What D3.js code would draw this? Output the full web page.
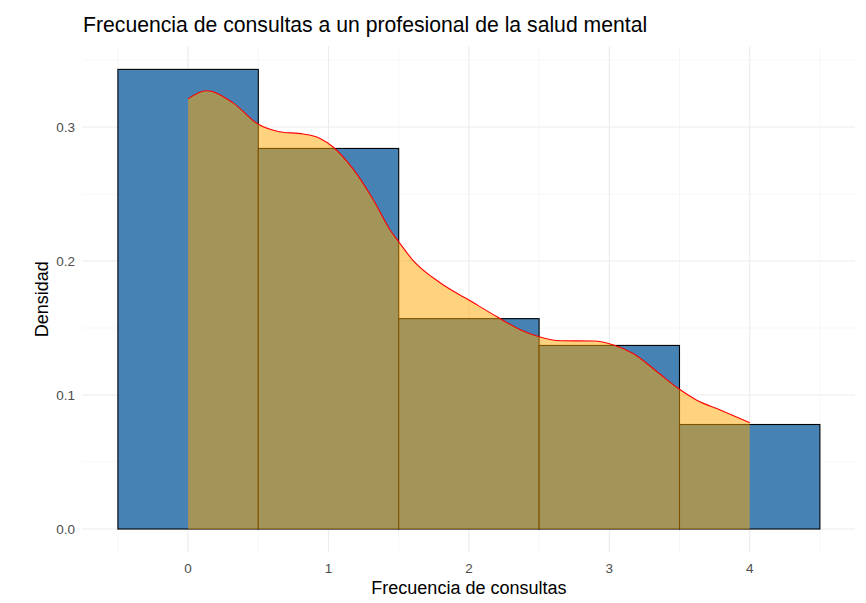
<!DOCTYPE html>
<html>
<head>
<meta charset="utf-8">
<script src="https://cdn.jsdelivr.net/npm/d3@7"></script>
<style>
  body { margin: 0; background: #fff; }
  text { font-family: "Liberation Sans", Arial, sans-serif; }
</style>
</head>
<body>
<svg id="chart" width="866" height="603"></svg>
<script>
// histogram (density scale), bins centred on 0..4, width 1
const bins = [0, 1, 2, 3, 4]
const binDensity = [0.343, 0.284, 0.157, 0.137, 0.078]

// kernel density curve
const kdeX = [0, 0.13, 0.32, 0.5, 0.65, 0.82, 0.94, 1.03, 1.18, 1.32, 1.44, 1.5, 1.6, 1.8, 2.0, 2.2, 2.37, 2.5, 2.65, 2.89, 3.03, 3.17, 3.34, 3.49, 3.62, 3.79, 4.0]
const kdeY = [0.321, 0.327, 0.318, 0.302, 0.2965, 0.2948, 0.2915, 0.2853, 0.268, 0.2455, 0.223, 0.2144, 0.2007, 0.1834, 0.1709, 0.1584, 0.1485, 0.1435, 0.1405, 0.1403, 0.1373, 0.131, 0.1174, 0.105, 0.0963, 0.0888, 0.0793]

const xTicks = [0, 1, 2, 3, 4]
const yTicks = [0, 0.1, 0.2, 0.3]
const xMinor = [-0.5, 0.5, 1.5, 2.5, 3.5, 4.5]
const yMinor = [0.05, 0.15, 0.25, 0.35]

const svg = d3.select('#chart')

const x = d3.scaleLinear().domain([-0.75, 4.75]).range([82.8, 855])
const y = d3.scaleLinear().domain([-0.01715, 0.36015]).range([552, 46.4])

// grid
const grid = svg.append('g')
grid.selectAll('.vminor').data(xMinor).join('line')
  .attr('x1', d => x(d)).attr('x2', d => x(d))
  .attr('y1', y.range()[0]).attr('y2', y.range()[1])
  .attr('stroke', '#f2f2f2').attr('stroke-width', 0.6)
grid.selectAll('.hminor').data(yMinor).join('line')
  .attr('y1', d => y(d)).attr('y2', d => y(d))
  .attr('x1', x.range()[0]).attr('x2', x.range()[1])
  .attr('stroke', '#f2f2f2').attr('stroke-width', 0.6)
grid.selectAll('.vmajor').data(xTicks).join('line')
  .attr('x1', d => x(d)).attr('x2', d => x(d))
  .attr('y1', y.range()[0]).attr('y2', y.range()[1])
  .attr('stroke', '#ebebeb').attr('stroke-width', 1.1)
grid.selectAll('.hmajor').data(yTicks).join('line')
  .attr('y1', d => y(d)).attr('y2', d => y(d))
  .attr('x1', x.range()[0]).attr('x2', x.range()[1])
  .attr('stroke', '#ebebeb').attr('stroke-width', 1.1)

// histogram bars
svg.append('g').selectAll('rect').data(bins).join('rect')
  .attr('x', d => x(d - 0.5))
  .attr('width', d => x(d + 0.5) - x(d - 0.5))
  .attr('y', (d, i) => y(binDensity[i]))
  .attr('height', (d, i) => y(0) - y(binDensity[i]))
  .attr('fill', '#4682b4')
  .attr('stroke', '#000')
  .attr('stroke-width', 1.1)

// density
const kde = kdeX.map((v, i) => [v, kdeY[i]])
const area = d3.area()
  .x(d => x(d[0])).y0(y(0)).y1(d => y(d[1]))
  .curve(d3.curveMonotoneX)
const line = d3.line()
  .x(d => x(d[0])).y(d => y(d[1]))
  .curve(d3.curveMonotoneX)

svg.append('path').datum(kde)
  .attr('d', area)
  .attr('fill', 'orange')
  .attr('fill-opacity', 0.5)
svg.append('path').datum(kde)
  .attr('d', line)
  .attr('fill', 'none')
  .attr('stroke', 'red')
  .attr('stroke-width', 1.1)

// axis labels
svg.append('g').selectAll('text').data(xTicks).join('text')
  .attr('x', d => x(d)).attr('y', 573)
  .attr('text-anchor', 'middle')
  .attr('font-size', 13.5).attr('fill', '#4d4d4d')
  .text(d => d)
svg.append('g').selectAll('text').data(yTicks).join('text')
  .attr('x', 75).attr('y', d => y(d) + 5)
  .attr('text-anchor', 'end')
  .attr('font-size', 13.5).attr('fill', '#4d4d4d')
  .text(d => d3.format('.1f')(d))

svg.append('text')
  .attr('x', (x.range()[0] + x.range()[1]) / 2).attr('y', 594)
  .attr('text-anchor', 'middle')
  .attr('font-size', 18).attr('fill', '#000')
  .text('Frecuencia de consultas')

svg.append('text')
  .attr('transform', `translate(48, ${(y.range()[0] + y.range()[1]) / 2}) rotate(-90)`)
  .attr('text-anchor', 'middle')
  .attr('font-size', 18).attr('fill', '#000')
  .text('Densidad')

svg.append('text')
  .attr('x', 83).attr('y', 32)
  .attr('font-size', 21.2).attr('fill', '#000')
  .text('Frecuencia de consultas a un profesional de la salud mental')
</script>
</body>
</html>
